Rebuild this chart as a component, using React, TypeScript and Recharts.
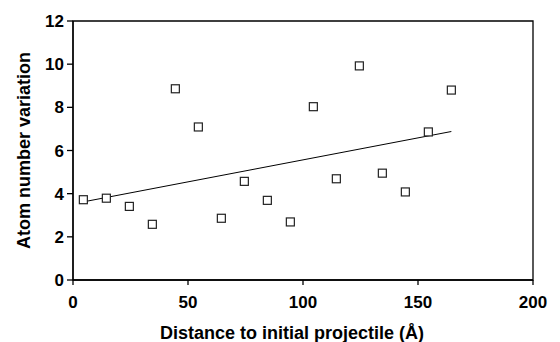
import React from "react";
import {
  ScatterChart, Scatter, XAxis, YAxis, ReferenceArea,
} from "recharts";

document.body.style.margin = "0";

const distances = [4.5, 14.5, 24.5, 34.5, 44.5, 54.5, 64.5, 74.5, 84.5, 94.5, 104.5, 114.5, 124.5, 134.5, 144.5, 154.5, 164.5];
const variations = [3.72, 3.79, 3.41, 2.58, 8.86, 7.09, 2.86, 4.57, 3.69, 2.69, 8.03, 4.69, 9.92, 4.95, 4.08, 6.86, 8.8];
const trendX = [4.5, 164.5];
const trendY = [3.62, 6.88];
const xTicks = [0, 50, 100, 150, 200];
const yTicks = [0, 2, 4, 6, 8, 10, 12];

const points = distances.map((x, i) => ({ x, y: variations[i] }));
const trend = trendX.map((x, i) => ({ x, y: trendY[i] }));

const font = "'Liberation Sans', Arial, Helvetica, sans-serif";

const renderXTick = (props: any) => {
  const { x, y, payload } = props;
  return (
    <text key={`xt-${payload.value}`} x={x} y={y + 13} textAnchor="middle"
      style={{ fontSize: 17, fontWeight: 700, fontFamily: font, fill: "#000" }}>
      {payload.value}
    </text>
  );
};

const renderYTick = (props: any) => {
  const { x, y, payload } = props;
  return (
    <text key={`yt-${payload.value}`} x={x} y={y + 6} textAnchor="end"
      style={{ fontSize: 17, fontWeight: 700, fontFamily: font, fill: "#000" }}>
      {payload.value}
    </text>
  );
};

const Square = (props: any) => {
  const { cx, cy } = props;
  if (cx == null || cy == null) return <g />;
  return <rect x={cx - 4} y={cy - 4} width={8} height={8} fill="#fff" stroke="#222" strokeWidth={1.2} />;
};

const XTitle = (props: any) => {
  const { viewBox } = props;
  const cx = viewBox.x + viewBox.width / 2 - 11;
  return (
    <text x={cx} y={339} textAnchor="middle" fontSize={18} fontWeight={700} fontFamily={font} fill="#000">
      Distance to initial projectile (Å)
    </text>
  );
};

const YTitle = (props: any) => {
  const { viewBox } = props;
  const cy = viewBox.y + viewBox.height / 2;
  return (
    <text x={30} y={cy} textAnchor="middle" fontSize={18} fontWeight={700} fontFamily={font} fill="#000"
      transform={`rotate(-90, 30, ${cy})`}>
      Atom number variation
    </text>
  );
};

export default function App() {
  return (
    <div style={{ width: 560, height: 342, background: "#fff" }}>
      <ScatterChart width={560} height={342} margin={{ top: 21, right: 27, bottom: 0, left: 0 }}>
        <XAxis
          type="number" dataKey="x" domain={[0, 200]} ticks={xTicks}
          height={62} tick={renderXTick} tickSize={5} tickMargin={10}
          axisLine={{ stroke: "#000", strokeWidth: 1.3 }} tickLine={{ stroke: "#000", strokeWidth: 1.3 }}
          label={{ content: XTitle }}
        />
        <YAxis
          type="number" dataKey="y" domain={[0, 12]} ticks={yTicks}
          width={73} tick={renderYTick} tickSize={6} tickMargin={3}
          axisLine={{ stroke: "#000", strokeWidth: 1.3 }} tickLine={{ stroke: "#000", strokeWidth: 1.3 }}
          label={{ content: YTitle }}
        />
        <ReferenceArea x1={0} x2={200} y1={0} y2={12} fill="none" fillOpacity={0} stroke="#000" strokeWidth={1.3} />
        <Scatter data={trend} line={{ stroke: "#000", strokeWidth: 1 }} shape={() => <g />} isAnimationActive={false} />
        <Scatter data={points} shape={Square} isAnimationActive={false} />
      </ScatterChart>
    </div>
  );
}
